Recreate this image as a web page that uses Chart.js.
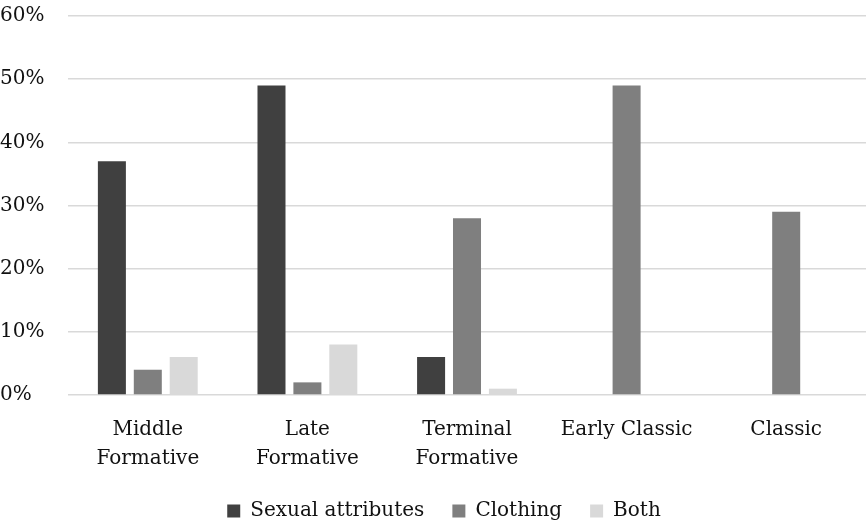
<!DOCTYPE html>
<html>
<head>
<meta charset="utf-8">
<script src="https://cdn.jsdelivr.net/npm/chart.js@4"></script>
<style>
  html, body { margin: 0; padding: 0; background: #fff; }
  #wrap { width: 866px; height: 527px; }
</style>
</head>
<body>
<div id="wrap"><canvas id="chart"></canvas></div>
<script>
// periods and share of figurines per attribute (%)
const periods = [["Middle", "Formative"], ["Late", "Formative"], ["Terminal", "Formative"], "Early Classic", "Classic"];
const sexualAttributes = [37, 49, 6, 0, 0];
const clothing = [4, 2, 28, 49, 29];
const both = [6, 8, 1, 0, 0];
const yTicks = [0, 10, 20, 30, 40, 50, 60];

const FONT = "'DejaVu Serif', 'Liberation Serif', serif";

// legend in the original sits a little right of the canvas centre
const legendShift = {
  id: "legendShift",
  afterLayout(chart) {
    if (chart.legend) { chart.legend.left += 11; chart.legend.right += 11; }
  },
};

new Chart(document.getElementById("chart"), {
  type: "bar",
  data: {
    labels: periods,
    datasets: [
      { label: "Sexual attributes", data: sexualAttributes, backgroundColor: "#404040" },
      { label: "Clothing", data: clothing, backgroundColor: "#7f7f7f" },
      { label: "Both", data: both, backgroundColor: "#d9d9d9" },
    ],
  },
  plugins: [legendShift],
  options: {
    responsive: true, maintainAspectRatio: false, animation: false,
    categoryPercentage: 0.675, barPercentage: 0.78,
    // small negative bottom padding: legend item spacing is wide, but sits close to the edge
    layout: { padding: { top: 0, left: 0, right: 0, bottom: -4 } },
    plugins: {
      tooltip: { enabled: false },
      legend: {
        position: "bottom",
        labels: {
          color: "#111", font: { family: FONT, size: 20 },
          boxWidth: 13, boxHeight: 13, padding: 28,
        },
      },
    },
    scales: {
      x: {
        grid: { display: false },
        border: { display: false },
        ticks: { color: "#111", font: { family: FONT, size: 20, lineHeight: 1.45 }, maxRotation: 0, padding: 12 },
        afterFit(scale) { scale.height = 78; },
      },
      y: {
        min: 0, max: 60,
        afterBuildTicks(scale) { scale.ticks = yTicks.map((v) => ({ value: v })); },
        grid: { color: "#d9d9d9", lineWidth: 1.5, drawTicks: false },
        border: { display: false },
        ticks: {
          color: "#111", font: { family: FONT, size: 20 },
          crossAlign: "far", padding: 4,
          callback: (v) => v + "%",
        },
        afterFit(scale) { scale.width = 68; },
      },
    },
  },
});
</script>
</body>
</html>
